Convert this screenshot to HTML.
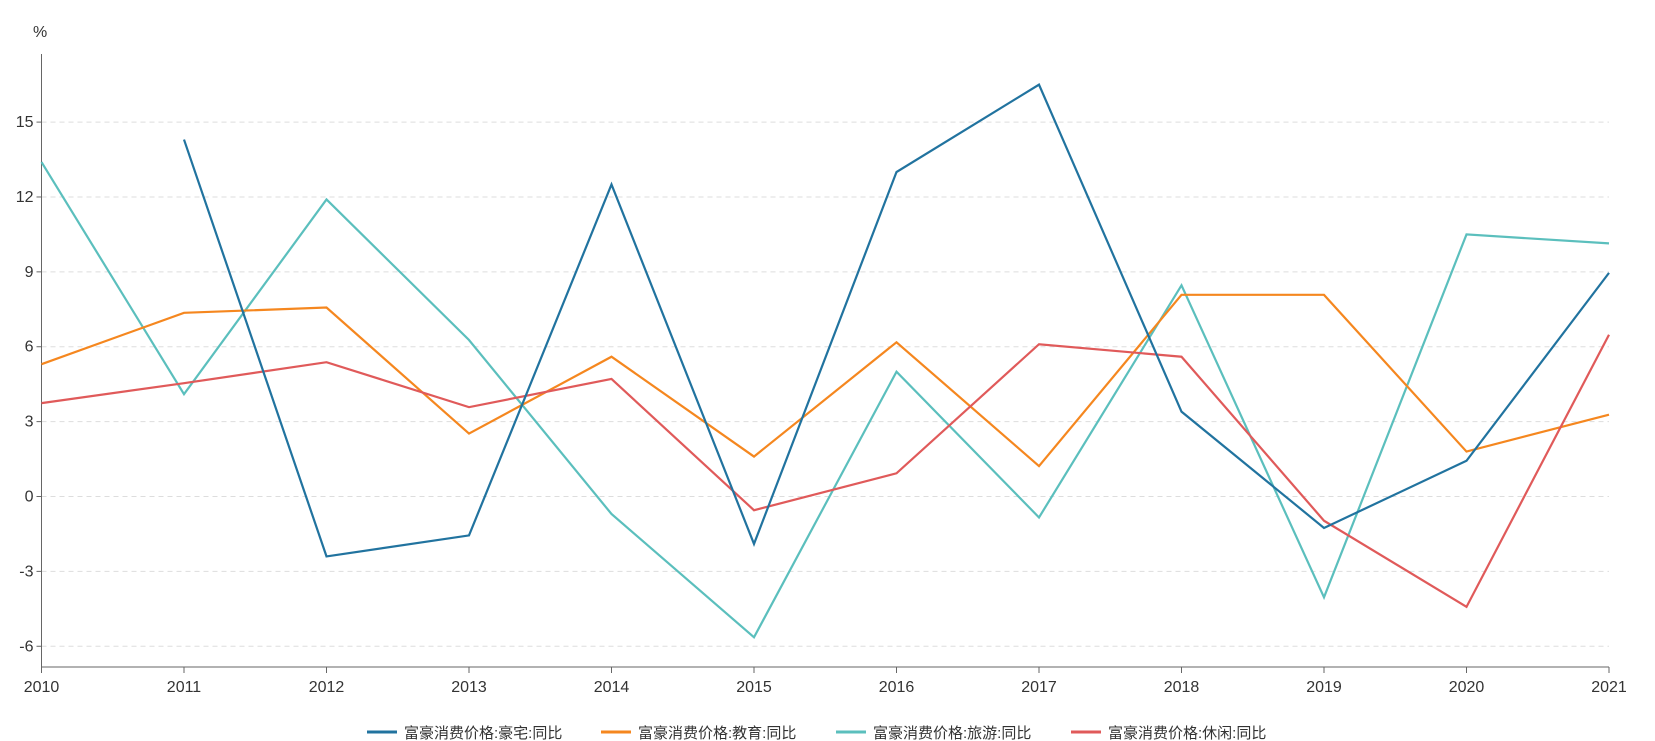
<!DOCTYPE html>
<html><head><meta charset="utf-8"><style>
body{margin:0;background:#fff;}
svg{display:block;font-family:"Liberation Sans","Noto Sans CJK SC",sans-serif;}
</style></head><body>
<svg id="s" width="1655" height="741" xmlns="http://www.w3.org/2000/svg"></svg>
<script>
const s=document.getElementById('s');
const X0=41.5,DX=142.5,Y0=496.5,K=24.96;
const X=i=>X0+i*DX, Y=v=>Y0-v*K;
let h='';
h+=`<text x="33" y="37" font-size="16" fill="#333">%</text>`;
for(let v=-6;v<=15;v+=3){
  const y=Y(v);
  if(v!==0||true) h+=`<line x1="${X0}" x2="1609" y1="${y}" y2="${y}" stroke="#ddd" stroke-dasharray="5,4"/>`;
  h+=`<line x1="${X0-5}" x2="${X0}" y1="${y}" y2="${y}" stroke="#666"/>`;
  h+=`<text x="${X0-8}" y="${y+5}" font-size="16" fill="#333" text-anchor="end">${v}</text>`;
}
h+=`<line x1="${X0}" x2="${X0}" y1="54" y2="667" stroke="#666"/>`;
h+=`<line x1="${X0}" x2="1609" y1="667" y2="667" stroke="#666"/>`;
for(let i=0;i<12;i++){
  const x=X(i);
  h+=`<line x1="${x}" x2="${x}" y1="667" y2="673" stroke="#666"/>`;
  h+=`<text x="${x}" y="692" font-size="16" fill="#333" text-anchor="middle">${2010+i}</text>`;
}
const S=[
 ['#21739f',[null,14.3,-2.4,-1.56,12.5,-1.9,13.0,16.5,3.4,-1.26,1.43,8.96]],
 ['#f5871f',[5.3,7.36,7.57,2.52,5.6,1.6,6.18,1.22,8.08,8.08,1.8,3.28]],
 ['#5bbfbd',[13.4,4.1,11.9,6.27,-0.7,-5.64,5.0,-0.84,8.46,-4.04,10.5,10.14]],
 ['#e05a5a',[3.74,4.54,5.38,3.58,4.71,-0.55,0.93,6.1,5.6,-0.97,-4.42,6.48]]
];
const order=[2,0,1,3];
for(const k of [2,1,3,0]){
  const [c,d]=S[k];
  const pts=d.map((v,i)=>v===null?null:`${X(i)},${Y(v)}`).filter(p=>p).join(' ');
  h+=`<polyline points="${pts}" fill="none" stroke="${c}" stroke-width="2.2"/>`;
}
const names=['富豪消费价格:豪宅:同比','富豪消费价格:教育:同比','富豪消费价格:旅游:同比','富豪消费价格:休闲:同比'];
const lx=[367,601,836,1071];
for(let i=0;i<4;i++){
  h+=`<line x1="${lx[i]}" x2="${lx[i]+30}" y1="732" y2="732" stroke="${S[i][0]}" stroke-width="3"/>`;
  h+=`<text x="${lx[i]+37}" y="738" font-size="15" fill="#333">${names[i]}</text>`;
}
s.innerHTML=h;
</script>
</body></html>
